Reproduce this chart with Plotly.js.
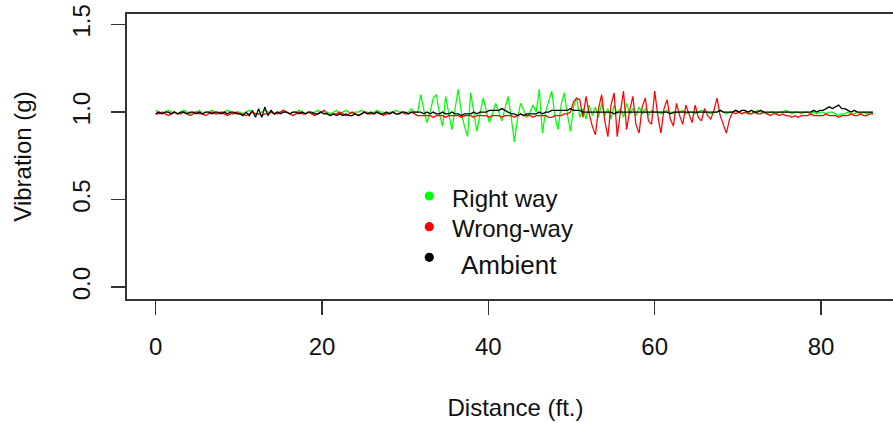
<!DOCTYPE html>
<html>
<head>
<meta charset="utf-8">
<script src="https://cdn.plot.ly/plotly-3.0.1.min.js"></script>
<style>
html,body{margin:0;padding:0;overflow:hidden;background:#fff;}
#chart{width:912px;height:423px;}
</style>
</head>
<body>
<div id="chart"></div>
<script>
// Sampling of distance (ft.)
const distanceStart = 0;
const distanceStep = 0.375;

const seriesNames = ["Right way", "Wrong-way", "Ambient"];
const seriesColors = ["#00ff00", "#ff0000", "#000000"];
const xTicks = [0, 20, 40, 60, 80];
const yTicks = [0.0, 0.5, 1.0, 1.5];
const yTickLabels = ["0.0", "0.5", "1.0", "1.5"];

const rightWay = [
1.01,1.00,0.99,1.00,1.01,1.00,1.00,0.99,1.00,1.01,
1.00,0.99,1.00,1.00,1.01,0.99,1.00,1.00,1.01,1.00,
0.99,1.00,1.00,1.01,1.00,0.99,1.00,1.00,0.99,1.00,
1.01,1.00,0.99,0.99,1.00,1.01,1.00,1.00,0.99,1.00,
1.00,1.01,1.00,0.99,1.00,1.00,1.01,1.00,0.99,1.00,
0.99,1.00,1.01,1.00,0.99,1.00,0.99,1.00,1.01,0.99,
1.00,1.01,1.00,0.99,1.00,1.00,1.01,1.00,1.00,0.99,
1.00,1.01,1.00,1.00,0.99,1.00,1.00,1.01,1.00,1.00,
0.99,1.00,1.02,1.00,
1.00,1.10,1.01,0.94,1.00,1.08,1.10,0.99,0.92,1.09,
0.99,0.90,1.02,1.13,1.00,0.92,0.86,1.11,1.00,0.89,
0.99,1.08,1.01,0.94,0.99,1.05,1.00,0.95,1.02,1.09,
0.97,0.83,0.96,1.05,1.01,0.97,1.00,1.04,1.00,1.13,
0.88,1.00,1.06,1.12,0.98,0.90,1.04,1.11,0.99,0.89,
1.03,1.08,0.97,1.02,0.96,1.04,0.98,1.03,0.97,1.05,
0.98,1.02,0.96,1.04,0.99,1.02,0.97,1.05,0.99,1.02,
0.98,1.03,0.99,1.02,0.98,1.01,1.00,
1.00,0.99,1.00,1.01,1.00,0.99,1.00,1.00,1.01,0.99,
1.00,1.00,0.99,1.00,1.01,1.00,1.00,0.99,1.00,1.00,
1.01,1.00,0.99,1.00,1.00,1.01,1.00,0.99,1.00,1.00,
0.99,1.00,1.01,1.00,1.00,0.99,1.00,1.00,0.99,1.00,
1.00,1.01,1.00,0.99,1.00,1.00,0.99,1.00,1.00,0.99,
1.00,0.99,1.00,1.00,0.99,1.00,1.00,0.99,0.98,0.99,
0.99,1.00,0.99,0.99,1.00,0.99,1.00,0.99,1.00,0.99
];

const wrongWay = [
0.99,0.99,1.00,0.99,0.98,0.99,1.00,0.99,0.99,1.00,
0.99,0.98,0.99,1.00,0.99,0.99,0.98,0.99,1.00,0.99,
0.99,1.00,0.99,0.98,0.99,0.99,1.00,0.99,0.99,0.98,
0.99,1.00,0.99,0.99,0.98,0.99,0.99,1.00,0.99,0.99,
1.00,1.01,1.00,0.99,0.98,0.99,1.00,0.99,0.99,1.00,
0.99,0.98,0.99,1.00,1.01,0.99,0.98,0.99,0.99,1.00,
0.99,0.98,0.99,1.00,0.99,0.98,0.99,1.00,0.99,0.99,
0.99,1.00,0.99,0.98,0.99,0.99,1.00,0.99,0.99,1.00,
0.99,0.99,1.00,0.99,0.98,0.98,0.98,0.98,0.98,0.97,
0.98,0.98,0.98,0.97,0.98,0.98,0.98,0.98,0.97,0.98,
0.98,0.98,0.97,0.98,0.98,0.98,0.98,0.97,0.98,0.98,
0.98,0.97,0.98,0.98,0.98,0.97,0.98,0.99,0.98,0.98,
0.98,0.97,0.98,0.98,0.98,0.98,0.97,0.97,0.98,0.98,
0.98,0.99,0.99,1.00,
1.06,1.08,1.07,0.97,1.09,0.99,0.92,0.87,1.02,1.10,
0.95,0.86,1.04,1.11,0.86,1.00,1.12,0.90,1.01,1.09,
0.93,0.88,1.03,1.08,0.95,0.93,1.12,0.98,0.88,1.02,
1.07,0.96,0.92,1.05,0.98,0.93,1.04,0.99,0.94,1.04,
0.97,0.95,1.02,0.98,0.96,1.01,1.08,0.98,0.93,0.88,
0.96,1.00,0.99,1.00,
0.99,1.00,0.99,0.99,1.00,0.99,0.99,1.00,0.99,0.98,
0.99,0.99,0.98,0.99,0.98,0.98,0.97,0.98,0.97,0.98,
0.98,0.98,0.99,0.98,0.98,0.98,0.98,0.99,0.98,0.98,
0.98,0.97,0.98,0.98,0.98,0.99,0.98,0.98,0.99,0.98,
0.98,0.99,0.99
];

const ambient = [
0.99,1.00,0.99,1.00,1.00,0.99,1.00,0.99,1.00,1.00,
0.99,1.00,1.00,0.99,1.00,0.99,1.00,1.00,0.99,1.00,
1.00,0.99,1.00,0.99,1.00,1.00,0.99,0.99,0.98,1.00,
0.98,1.01,0.97,1.02,0.97,1.03,0.98,1.01,0.99,1.00,
0.99,1.00,1.00,0.99,1.00,1.00,0.99,1.00,0.99,1.00,
1.00,0.99,0.99,1.00,0.99,0.99,0.98,0.99,0.98,0.99,
0.98,0.99,0.98,0.98,0.99,0.98,0.99,1.00,0.99,1.00,
0.99,1.00,0.99,0.99,1.00,0.99,1.00,0.99,0.99,1.00,
1.00,0.99,1.00,1.00,1.00,1.00,0.99,1.00,0.99,1.00,
0.99,0.99,1.00,0.99,0.99,1.00,0.99,0.99,0.98,0.99,
0.99,0.99,1.00,0.99,1.00,1.00,1.00,1.01,1.01,1.01,
1.01,1.02,1.01,1.00,0.99,0.99,0.98,0.99,0.98,0.99,
0.99,0.99,0.99,1.00,0.99,1.00,1.00,1.01,1.01,1.01,
1.01,1.01,1.01,1.02,1.01,1.01,1.01,1.00,1.00,1.00,
1.00,1.00,1.00,1.00,1.00,1.00,1.00,0.99,1.00,1.00,
1.00,1.00,1.00,1.00,1.00,1.00,1.00,1.00,1.00,1.00,
1.00,1.00,1.00,1.00,1.00,0.99,1.00,1.00,1.00,1.00,
1.00,1.00,1.00,1.00,1.00,1.00,1.00,1.00,1.00,1.00,
1.00,1.01,1.00,1.00,1.00,1.00,1.01,1.00,1.01,1.01,
1.00,1.01,1.00,1.00,1.01,1.00,1.00,1.00,1.00,1.00,
1.00,1.00,1.00,1.00,1.00,1.00,1.00,1.00,1.00,1.00,
1.00,1.01,1.00,1.01,1.01,1.02,1.03,1.02,1.03,1.04,
1.02,1.02,1.01,1.00,1.01,1.00,1.00,1.00,1.00,1.00,
1.00
];

const allSeries = [rightWay, wrongWay, ambient];

const FONT = '"Liberation Sans", Arial, sans-serif';
const W = 912, H = 423;
const M = {l: 127, r: 8, t: 14, b: 124};
const plotW = W - M.l - M.r, plotH = H - M.t - M.b;
const px2x = p => (p - M.l) / plotW;
const px2y = p => (H - M.b - p) / plotH;

const traces = allSeries.map((ys, k) => ({
  type: 'scatter',
  mode: 'lines',
  name: seriesNames[k],
  x0: distanceStart,
  dx: distanceStep,
  y: ys,
  line: {color: seriesColors[k], width: 1.25},
  hoverinfo: 'skip'
}));

// legend (as in the original: manual dots + labels)
const legendDots = [[429.3, 196], [429.3, 226.7], [429.3, 257.3]];
const legendText = [[450, 198.5], [450, 228.5], [459, 265]];
const legendSizes = [24, 24, 26];
const shapes = legendDots.map((d, k) => ({
  type: 'circle', xref: 'paper', yref: 'paper',
  x0: px2x(d[0] - 4.6), x1: px2x(d[0] + 4.6),
  y0: px2y(d[1] + 4.6), y1: px2y(d[1] - 4.6),
  fillcolor: seriesColors[k], line: {width: 0}
}));
const annotations = legendText.map((t, k) => ({
  xref: 'paper', yref: 'paper', x: px2x(t[0]), y: px2y(t[1]),
  xanchor: 'left', yanchor: 'middle', showarrow: false,
  text: seriesNames[k], font: {family: FONT, size: legendSizes[k], color: '#111'}
}));

const axisCommon = {
  showgrid: false, zeroline: false, showline: true, mirror: true,
  linecolor: '#333', linewidth: 1.6,
  ticks: 'outside', ticklen: 14, tickwidth: 1.6, tickcolor: '#333',
  tickfont: {family: FONT, size: 24, color: '#111'}
};

const layout = {
  width: W, height: H,
  margin: M,
  paper_bgcolor: '#fff', plot_bgcolor: '#fff',
  showlegend: false,
  font: {family: FONT, color: '#111'},
  xaxis: Object.assign({}, axisCommon, {
    range: [-3.45, 89.98],
    tickmode: 'array', tickvals: xTicks, ticktext: xTicks.map(String),
    ticklabelstandoff: 12,
    title: {text: 'Distance (ft.)', font: {family: FONT, size: 24, color: '#111'}, standoff: 40}
  }),
  yaxis: Object.assign({}, axisCommon, {
    range: [-0.067, 1.56],
    tickmode: 'array', tickvals: yTicks, ticktext: yTickLabels,
    tickangle: -90,
    ticklabelstandoff: 12,
    title: {text: 'Vibration (g)', font: {family: FONT, size: 24, color: '#111'}, standoff: 29}
  }),
  shapes: shapes,
  annotations: annotations
};

Plotly.newPlot('chart', traces, layout, {displayModeBar: false, staticPlot: true});
</script>
</body>
</html>
